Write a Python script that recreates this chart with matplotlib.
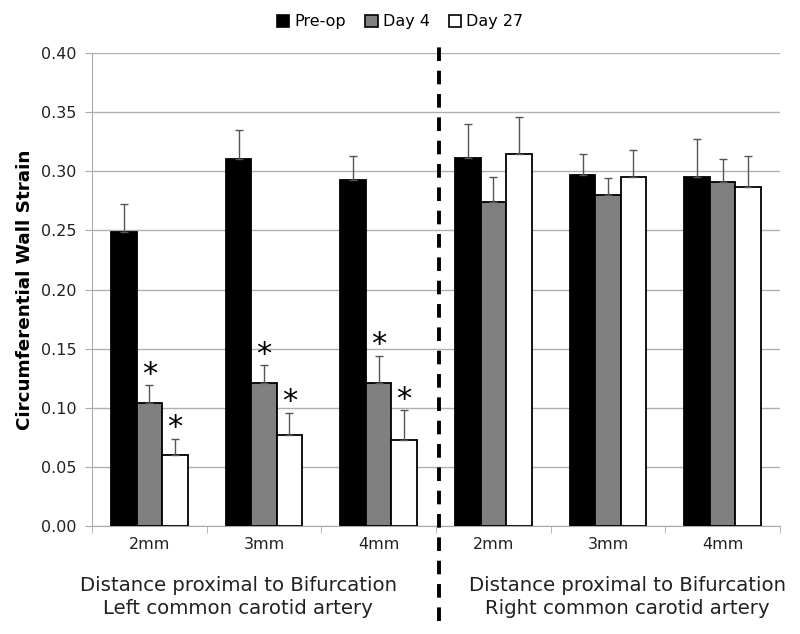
import numpy as np
import matplotlib.pyplot as plt
from matplotlib.patches import Patch

# values
groups = ["2mm", "3mm", "4mm", "2mm", "3mm", "4mm"]
series = ["Pre-op", "Day 4", "Day 27"]
preop = [0.249, 0.310, 0.293, 0.311, 0.297, 0.295]
day4 = [0.104, 0.121, 0.121, 0.274, 0.280, 0.291]
day27 = [0.060, 0.077, 0.073, 0.315, 0.295, 0.287]
preop_sd = [0.023, 0.025, 0.020, 0.029, 0.018, 0.032]
day4_sd = [0.015, 0.015, 0.023, 0.021, 0.014, 0.019]
day27_sd = [0.014, 0.019, 0.025, 0.031, 0.023, 0.026]
# asterisks: (series index, group index)
stars = [(1, 0), (2, 0), (1, 1), (2, 1), (1, 2), (2, 2)]
side_labels = ["Distance proximal to Bifurcation\nLeft common carotid artery",
               "Distance proximal to Bifurcation\nRight common carotid artery"]

colors = ["black", "#808080", "white"]
vals = [preop, day4, day27]
sds = [preop_sd, day4_sd, day27_sd]

fig = plt.figure(figsize=(8, 6.34), dpi=100)
ax = fig.add_axes([0.115, 0.170, 0.86, 0.7464])

x = np.arange(len(groups))
w = 0.222
for i in range(3):
    pos = x + (i - 1) * w
    ax.bar(pos, vals[i], w, color=colors[i], edgecolor="black", linewidth=1.3, zorder=3)
    ax.errorbar(pos, vals[i], yerr=[np.zeros(len(groups)), sds[i]], fmt="none",
                ecolor="#555555", elinewidth=1, capsize=3, capthick=1, zorder=4)

for s, g in stars:
    xs = g + (s - 1) * w
    ax.text(xs, vals[s][g] + sds[s][g] + 0.002, "*", ha="center", va="baseline",
            fontsize=22, zorder=5)

ax.set_xlim(-0.5, len(groups) - 0.5)
ax.set_ylim(0, 0.40)
ax.set_yticks(np.arange(0, 0.401, 0.05))
ax.set_yticklabels([f"{v:.2f}" for v in np.arange(0, 0.401, 0.05)], fontsize=11.5, color="#222222")
ax.set_xticks(x)
ax.set_xticklabels(groups, fontsize=11.5, color="#222222")
ax.tick_params(axis="x", length=0, pad=8)
ax.set_xticks(np.arange(-0.5, len(groups)), minor=True)
ax.tick_params(axis="x", which="minor", length=5, color="#aaaaaa", direction="out")
ax.tick_params(axis="y", length=5, color="#aaaaaa", pad=6)
ax.yaxis.grid(True, color="#b0b0b0", linewidth=1, zorder=0)
ax.set_axisbelow(True)
for sp in ["top", "right"]:
    ax.spines[sp].set_visible(False)
for sp in ["left", "bottom"]:
    ax.spines[sp].set_color("#aaaaaa")

ax.set_ylabel("Circumferential Wall Strain", fontsize=13.2, fontweight="bold", labelpad=5)

# dashed separator between left and right arteries
ax.plot([2.53, 2.53], [-0.2, 1.02], transform=ax.get_xaxis_transform(), color="black",
        linestyle=(0, (3.5, 2.5)), linewidth=2.8, clip_on=False, zorder=6)

fig.text(0.2975, 0.0584, side_labels[0], ha="center", va="center", fontsize=14.2,
         linespacing=1.3, color="#222222")
fig.text(0.784, 0.0584, side_labels[1], ha="center", va="center", fontsize=14.2,
         linespacing=1.3, color="#222222")

handles = [Patch(facecolor=c, edgecolor="black", linewidth=1.2) for c in colors]
fig.legend(handles, series, loc="upper center", bbox_to_anchor=(0.5, 1.0), ncol=3,
           frameon=False, fontsize=11.5, handlelength=0.8, handleheight=0.8,
           handletextpad=0.3, columnspacing=1.2)

fig.savefig("out.png", dpi=100)
